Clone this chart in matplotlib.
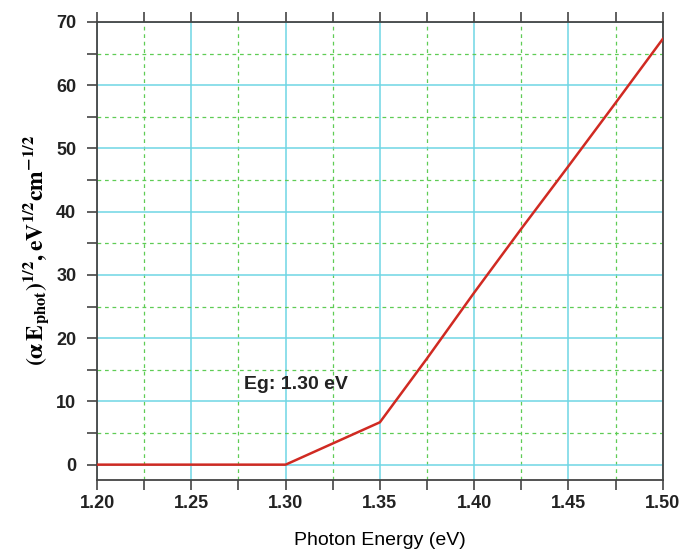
import matplotlib
matplotlib.use("Agg")
import matplotlib.pyplot as plt
from matplotlib.ticker import MultipleLocator

# values
energy = [1.20, 1.25, 1.30, 1.35, 1.375, 1.40, 1.425, 1.45, 1.475, 1.50]
tauc = [0.0, 0.0, 0.0, 6.7, 16.8, 27.2, 37.3, 47.2, 57.2, 67.3]
gap_label = "Eg: 1.30 eV"
x_ticks = [1.20, 1.25, 1.30, 1.35, 1.40, 1.45, 1.50]
y_ticks = [0, 10, 20, 30, 40, 50, 60, 70]

plt.rcParams["mathtext.fontset"] = "stix"

fig = plt.figure(figsize=(6.79, 5.49), dpi=100)
ax = fig.add_axes([0.143, 0.126, 0.833, 0.834])

ax.plot(energy, tauc, color="#d02a22", linewidth=1.8, zorder=3)

ax.set_xlim(1.20, 1.50)
ax.set_ylim(-2.4, 70)
ax.set_xticks(x_ticks)
ax.set_xticklabels([f"{v:.2f}" for v in x_ticks])
ax.set_yticks(y_ticks)
ax.xaxis.set_minor_locator(MultipleLocator(0.025))
ax.yaxis.set_minor_locator(MultipleLocator(5))

ax.grid(which="major", color="#6fd6e4", linestyle="-", linewidth=1.1)
ax.grid(which="minor", color="#5fcc55", linestyle=(0, (3, 3)), linewidth=0.9)
ax.set_axisbelow(True)

ax.tick_params(which="both", direction="out", top=True, right=False,
               colors="#444444", width=1.2)
ax.tick_params(which="major", length=7)
ax.tick_params(axis="x", which="major", pad=4)
ax.tick_params(axis="y", which="major", pad=8)
ax.tick_params(which="minor", length=7)
for lab in ax.get_xticklabels() + ax.get_yticklabels():
    lab.set_fontfamily("Liberation Sans")
    lab.set_fontweight("bold")
    lab.set_fontsize(13)
    lab.set_color("#222222")
for side in ax.spines.values():
    side.set_color("#444444")
    side.set_linewidth(1.3)

ax.text(1.278, 12.6, gap_label, fontsize=14, fontweight="bold",
        family="Liberation Sans", color="#222222", va="center", ha="left")

ax.set_xlabel("Photon Energy (eV)", fontsize=14, family="Liberation Sans",
              labelpad=14)
ax.set_ylabel(r"$\mathbf{(\alpha\,E_{phot})^{1/2},eV^{1/2}cm^{-1/2}}$",
              fontsize=17, labelpad=4)

fig.savefig("out.png", dpi=100)
